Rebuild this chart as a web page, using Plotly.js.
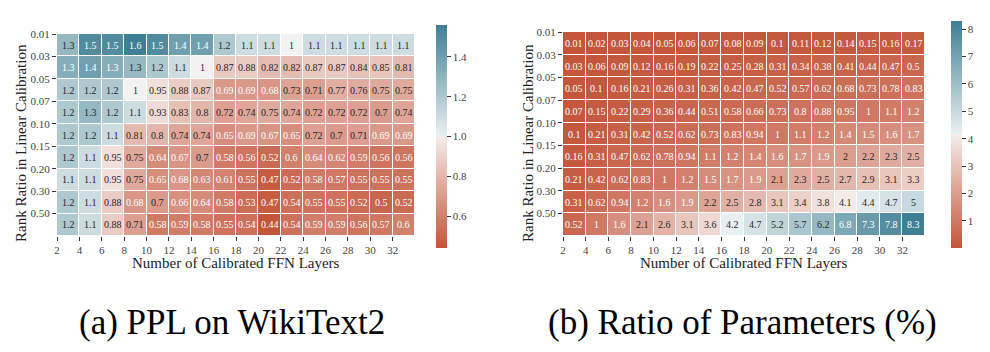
<!DOCTYPE html>
<html>
<head>
<meta charset="utf-8">
<script src="https://cdn.plot.ly/plotly-3.0.1.min.js"></script>
<style>
html,body{margin:0;padding:0;background:#fff;}
#chart{width:990px;height:352px;}
#fontwarm{position:absolute;left:0;top:0;visibility:hidden;font-family:'Liberation Serif';font-size:12px;}
</style>
</head>
<body>
<div id="fontwarm">0</div>
<div id="chart"></div>
<script>
// ---------- data ----------
const layerLabels = [2, 4, 6, 8, 10, 12, 14, 16, 18, 20, 22, 24, 26, 28, 30, 32];
const rankLabels = ['0.01', '0.03', '0.05', '0.07', '0.10', '0.15', '0.20', '0.30', '0.50'];

// (a) PPL on WikiText2
const pplValues = [
  [1.28, 1.5, 1.5, 1.6, 1.5, 1.4, 1.4, 1.2, 1.1, 1.1, 1, 1.1, 1.1, 1.1, 1.1, 1.1],
  [1.33, 1.4, 1.33, 1.28, 1.2, 1.1, 1, 0.87, 0.88, 0.82, 0.82, 0.87, 0.87, 0.84, 0.85, 0.81],
  [1.2, 1.2, 1.2, 1, 0.95, 0.88, 0.87, 0.69, 0.69, 0.68, 0.73, 0.71, 0.77, 0.76, 0.75, 0.75],
  [1.2, 1.28, 1.2, 1.1, 0.93, 0.83, 0.8, 0.72, 0.74, 0.75, 0.74, 0.72, 0.72, 0.72, 0.7, 0.74],
  [1.2, 1.2, 1.1, 0.81, 0.8, 0.74, 0.74, 0.65, 0.69, 0.67, 0.65, 0.72, 0.7, 0.71, 0.69, 0.69],
  [1.2, 1.1, 0.95, 0.75, 0.64, 0.67, 0.7, 0.58, 0.56, 0.52, 0.6, 0.64, 0.62, 0.59, 0.56, 0.56],
  [1.1, 1.1, 0.95, 0.75, 0.65, 0.68, 0.63, 0.61, 0.55, 0.47, 0.52, 0.58, 0.57, 0.55, 0.55, 0.55],
  [1.2, 1.1, 0.88, 0.68, 0.7, 0.66, 0.64, 0.58, 0.53, 0.47, 0.54, 0.55, 0.55, 0.52, 0.5, 0.52],
  [1.2, 1.1, 0.88, 0.71, 0.58, 0.59, 0.58, 0.55, 0.54, 0.44, 0.54, 0.59, 0.59, 0.56, 0.57, 0.6]
];

// (b) Ratio of Parameters (%)
const paramValues = [
  [0.01, 0.02, 0.03, 0.04, 0.05, 0.06, 0.07, 0.08, 0.09, 0.1, 0.11, 0.12, 0.14, 0.15, 0.16, 0.17],
  [0.03, 0.06, 0.09, 0.12, 0.16, 0.19, 0.22, 0.25, 0.28, 0.31, 0.34, 0.38, 0.41, 0.44, 0.47, 0.5],
  [0.05, 0.1, 0.16, 0.21, 0.26, 0.31, 0.36, 0.42, 0.47, 0.52, 0.57, 0.62, 0.68, 0.73, 0.78, 0.83],
  [0.07, 0.15, 0.22, 0.29, 0.36, 0.44, 0.51, 0.58, 0.66, 0.73, 0.8, 0.88, 0.95, 1, 1.1, 1.2],
  [0.1, 0.21, 0.31, 0.42, 0.52, 0.62, 0.73, 0.83, 0.94, 1, 1.1, 1.2, 1.4, 1.5, 1.6, 1.7],
  [0.16, 0.31, 0.47, 0.62, 0.78, 0.94, 1.1, 1.2, 1.4, 1.6, 1.7, 1.9, 2, 2.2, 2.3, 2.5],
  [0.21, 0.42, 0.62, 0.83, 1, 1.2, 1.5, 1.7, 1.9, 2.1, 2.3, 2.5, 2.7, 2.9, 3.1, 3.3],
  [0.31, 0.62, 0.94, 1.2, 1.6, 1.9, 2.2, 2.5, 2.8, 3.1, 3.4, 3.8, 4.1, 4.4, 4.7, 5],
  [0.52, 1, 1.6, 2.1, 2.6, 3.1, 3.6, 4.2, 4.7, 5.2, 5.7, 6.2, 6.8, 7.3, 7.8, 8.3]
];

const pplColorTicks = [0.6, 0.8, 1.0, 1.2, 1.4];
const paramColorTicks = [1, 2, 3, 4, 5, 6, 7, 8];

// ---------- helpers ----------
const W = 990, H = 352;
const px = v => v / W;
const py = v => 1 - v / H;
const SERIF = 'Liberation Serif';

const cmap = [
  [0, '#c3553a'],
  [0.498, '#f5ecea'],
  [0.5, '#f2f2f2'],
  [0.502, '#ebf0f2'],
  [1, '#3f7f93']
];

const fmt = v => String(parseFloat(v.toPrecision(2)));
const colIdx = layerLabels.map((_, i) => i);
const rowIdx = rankLabels.map((_, i) => i);

function heat(z, xa, ya, zmin, zmax, cb) {
  return {
    type: 'heatmap', z: z, x: colIdx, y: rowIdx,
    xaxis: xa, yaxis: ya, zmin: zmin, zmax: zmax,
    colorscale: cmap, xgap: 1, ygap: 1, hoverinfo: 'skip',
    colorbar: cb
  };
}

function cbar(xPix, top, bottom, ticks, decimals) {
  return {
    x: px(xPix), xanchor: 'left', xpad: 0, ypad: 0,
    y: py((top + bottom) / 2), yanchor: 'middle',
    len: bottom - top, lenmode: 'pixels', thickness: 11,
    outlinewidth: 0, tickvals: ticks,
    ticktext: ticks.map(t => t.toFixed(decimals)),
    ticks: 'outside', ticklen: 4, tickwidth: 1, tickcolor: '#333',
    tickfont: {family: SERIF, size: 11, color: '#444'}
  };
}

const data = [
  heat(pplValues, 'x', 'y', 0.44, 1.56, cbar(436, 25, 248, pplColorTicks, 1)),
  heat(paramValues, 'x2', 'y2', 0.01, 8.3, cbar(951, 21, 248, paramColorTicks, 0))
];

function cellAnnotations(z, xr, yr, isDark) {
  const out = [];
  z.forEach((row, i) => row.forEach((v, j) => {
    out.push({
      x: colIdx[j], y: rowIdx[i], xref: xr, yref: yr, showarrow: false,
      text: fmt(v),
      font: {family: SERIF, size: 10, color: isDark(v) ? '#262626' : '#ffffff'}
    });
  }));
  return out;
}

const titleFont = {family: SERIF, size: 15, color: '#222'};
const capFont = {family: SERIF, size: 35, color: '#000'};

const annotations = [].concat(
  cellAnnotations(pplValues, 'x', 'y', v => v >= 0.695 && v <= 1.3),
  cellAnnotations(paramValues, 'x2', 'y2', v => v >= 1.95 && v <= 6.5),
  [
    {text: 'Number of Calibrated FFN Layers', x: px(236), y: py(263), xref: 'paper', yref: 'paper',
     showarrow: false, xanchor: 'center', yanchor: 'middle', font: titleFont},
    {text: 'Number of Calibrated FFN Layers', x: px(744), y: py(263), xref: 'paper', yref: 'paper',
     showarrow: false, xanchor: 'center', yanchor: 'middle', font: titleFont},
    {text: 'Rank Ratio in Linear Calibration', x: px(21), y: py(143), xref: 'paper', yref: 'paper',
     showarrow: false, textangle: -90, xanchor: 'center', yanchor: 'middle', font: titleFont},
    {text: 'Rank Ratio in Linear Calibration', x: px(528), y: py(143), xref: 'paper', yref: 'paper',
     showarrow: false, textangle: -90, xanchor: 'center', yanchor: 'middle', font: titleFont},
    {text: '(a) PPL on WikiText2', x: px(232), y: py(322), xref: 'paper', yref: 'paper',
     showarrow: false, xanchor: 'center', yanchor: 'middle', font: capFont},
    {text: '(b) Ratio of Parameters (%)', x: px(742), y: py(322), xref: 'paper', yref: 'paper',
     showarrow: false, xanchor: 'center', yanchor: 'middle', font: capFont}
  ]
);

function xAxis(x0, x1, anchor) {
  return {
    domain: [px(x0), px(x1)], anchor: anchor, range: [-0.5, colIdx.length - 0.5],
    tickvals: colIdx.map(i => i - 0.5), ticktext: layerLabels.map(String),
    ticks: 'outside', ticklen: 4, tickwidth: 1, tickcolor: '#333',
    showgrid: false, zeroline: false, showline: false, fixedrange: true,
    tickfont: {family: SERIF, size: 11, color: '#444'}
  };
}
function yAxis(top, bottom, anchor) {
  return {
    domain: [py(bottom), py(top)], anchor: anchor, range: [rowIdx.length - 0.5, -0.5],
    tickvals: rowIdx.map(i => i - 0.5), ticktext: rankLabels,
    ticks: 'outside', ticklen: 4, tickwidth: 1, tickcolor: '#333',
    showgrid: false, zeroline: false, showline: false, fixedrange: true,
    tickfont: {family: SERIF, size: 11, color: '#444'}
  };
}

const layout = {
  width: W, height: H, margin: {l: 0, r: 0, t: 0, b: 0},
  paper_bgcolor: '#fff', plot_bgcolor: '#fff', showlegend: false,
  font: {family: SERIF},
  xaxis: xAxis(57, 415, 'y'), yaxis: yAxis(34, 236, 'x'),
  xaxis2: xAxis(563, 925, 'y2'), yaxis2: yAxis(32, 236, 'x2'),
  annotations: annotations
};

Plotly.newPlot('chart', data, layout, {displayModeBar: false, staticPlot: true});
</script>
</body>
</html>
